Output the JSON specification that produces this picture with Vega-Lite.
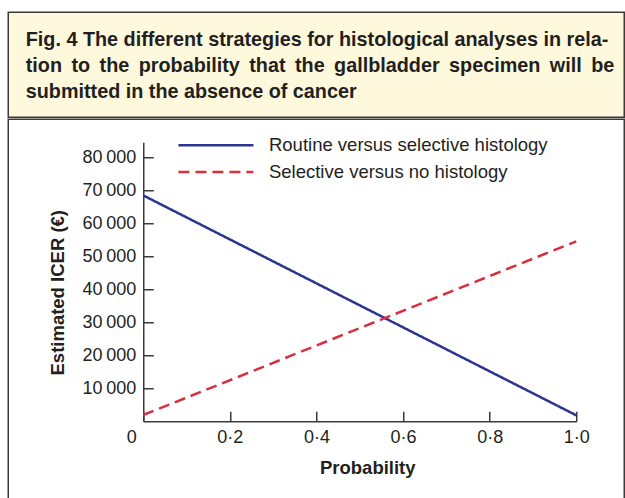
{
  "$schema": "https://vega.github.io/schema/vega-lite/v6.json",
  "padding": {"left": 7.25, "top": 11.25, "right": 0, "bottom": 0},
  "spacing": 0,
  "background": "white",
  "resolve": {"scale": {"x": "independent", "y": "independent"}},
  "config": {
    "view": {"stroke": null},
    "font": "Liberation Sans"
  },
  "vconcat": [
    {
      "width": 616,
      "height": 105,
      "view": {"fill": "#fef9dc", "stroke": "#3a3a3a", "strokeWidth": 1.5},
      "data": {"values": []},
      "mark": "point",
      "encoding": {
        "x": {
          "field": "p",
          "type": "quantitative",
          "scale": {"domain": [0, 1]},
          "axis": {
            "orient": "bottom",
            "domain": false,
            "ticks": false,
            "labels": false,
            "grid": false,
            "title": [
              "Fig. 4 The different strategies for histological analyses in rela-",
              "tion \u2009to \u2009the \u2009probability \u2009that \u2009the \u2009gallbladder \u2009specimen \u2009will \u2009be",
              "submitted in the absence of cancer"
            ],
            "titleX": 17,
            "titleY": -72,
            "titleAlign": "left",
            "titleBaseline": "alphabetic",
            "titleFont": "Liberation Sans",
            "titleFontSize": 19.8,
            "titleFontWeight": "bold",
            "titleColor": "#231f20",
            "titleLineHeight": 26.3
          }
        }
      }
    },
    {
      "width": 616,
      "height": 381,
      "view": {"fill": "white", "stroke": "#3a3a3a", "strokeWidth": 1.5, "strokeDash": [997, 616, 381]},
      "data": {
        "values": [
          {"p": 0, "icer": 68400, "series": "Routine versus selective histology"},
          {"p": 1, "icer": 1800, "series": "Routine versus selective histology"},
          {"p": 0, "icer": 1900, "series": "Selective versus no histology"},
          {"p": 1, "icer": 54500, "series": "Selective versus no histology"}
        ]
      },
      "mark": {"type": "line", "strokeWidth": 2.5, "strokeCap": "butt"},
      "encoding": {
        "x": {
          "field": "p",
          "type": "quantitative",
          "scale": {"domain": [0, 1], "range": [135, 568], "nice": false, "zero": false},
          "axis": {
            "offset": -79,
            "values": [0, 0.2, 0.4, 0.6, 0.8, 1],
            "labelExpr": "datum.value === 0 ? '0' : replace(format(datum.value, '.1f'), '.', '·')",
            "labelOffset": {"condition": {"test": "datum.value === 0", "value": -12}, "value": 0},
            "labelFlush": false,
            "labelOverlap": false,
            "labelBound": false,
            "labelFont": "Liberation Sans",
            "labelFontSize": 18,
            "labelColor": "#231f20",
            "labelPadding": 17.5,
            "tickSize": -10,
            "tickWidth": 1.5,
            "tickColor": "#3a3a3a",
            "domainColor": "#3a3a3a",
            "domainWidth": 1.5,
            "grid": false,
            "title": "Probability",
            "titleFont": "Liberation Sans",
            "titleFontSize": 18.5,
            "titleFontWeight": "bold",
            "titleColor": "#231f20",
            "titleX": 359,
            "titleY": 52.7,
            "titleAlign": "center",
            "titleBaseline": "alphabetic"
          }
        },
        "y": {
          "field": "icer",
          "type": "quantitative",
          "scale": {"domain": [0, 84500], "range": [302, 23], "nice": false, "zero": false},
          "axis": {
            "offset": -135,
            "values": [10000, 20000, 30000, 40000, 50000, 60000, 70000, 80000],
            "labelExpr": "replace(format(datum.value, ','), ',', '\u2009')",
            "labelFlush": false,
            "labelOverlap": false,
            "labelBound": false,
            "labelFont": "Liberation Sans",
            "labelFontSize": 18,
            "labelColor": "#231f20",
            "labelPadding": 17.5,
            "tickSize": -10,
            "tickWidth": 1.5,
            "tickColor": "#3a3a3a",
            "domainColor": "#3a3a3a",
            "domainWidth": 1.5,
            "grid": false,
            "title": "Estimated ICER (€)",
            "titleFont": "Liberation Sans",
            "titleFontSize": 18.5,
            "titleFontWeight": "bold",
            "titleColor": "#231f20",
            "titleAngle": 270,
            "titleX": -80,
            "titleY": 173,
            "titleAlign": "center",
            "titleBaseline": "alphabetic"
          }
        },
        "color": {
          "field": "series",
          "type": "nominal",
          "scale": {
            "domain": ["Routine versus selective histology", "Selective versus no histology"],
            "range": ["#2b3590", "#d82f3f"]
          },
          "legend": {
            "orient": "none",
            "legendX": 168.7,
            "legendY": 123,
            "title": null,
            "symbolType": "stroke",
            "symbolSize": 5625,
            "symbolStrokeWidth": 2.5,
            "labelFont": "Liberation Sans",
            "labelFontSize": 18.5,
            "labelColor": "#231f20",
            "labelOffset": 14,
            "labelLimit": 400,
            "clipHeight": 20,
            "rowPadding": 6.7,
            "padding": 0
          }
        },
        "strokeDash": {
          "field": "series",
          "type": "nominal",
          "scale": {
            "domain": ["Routine versus selective histology", "Selective versus no histology"],
            "range": [[1, 0], [11, 6]]
          },
          "legend": {
            "orient": "none",
            "legendX": 168.7,
            "legendY": 123,
            "title": null,
            "symbolType": "stroke",
            "symbolSize": 5625,
            "symbolStrokeWidth": 2.5,
            "labelFont": "Liberation Sans",
            "labelFontSize": 18.5,
            "labelColor": "#231f20",
            "labelOffset": 14,
            "labelLimit": 400,
            "clipHeight": 20,
            "rowPadding": 6.7,
            "padding": 0
          }
        }
      }
    }
  ]
}
